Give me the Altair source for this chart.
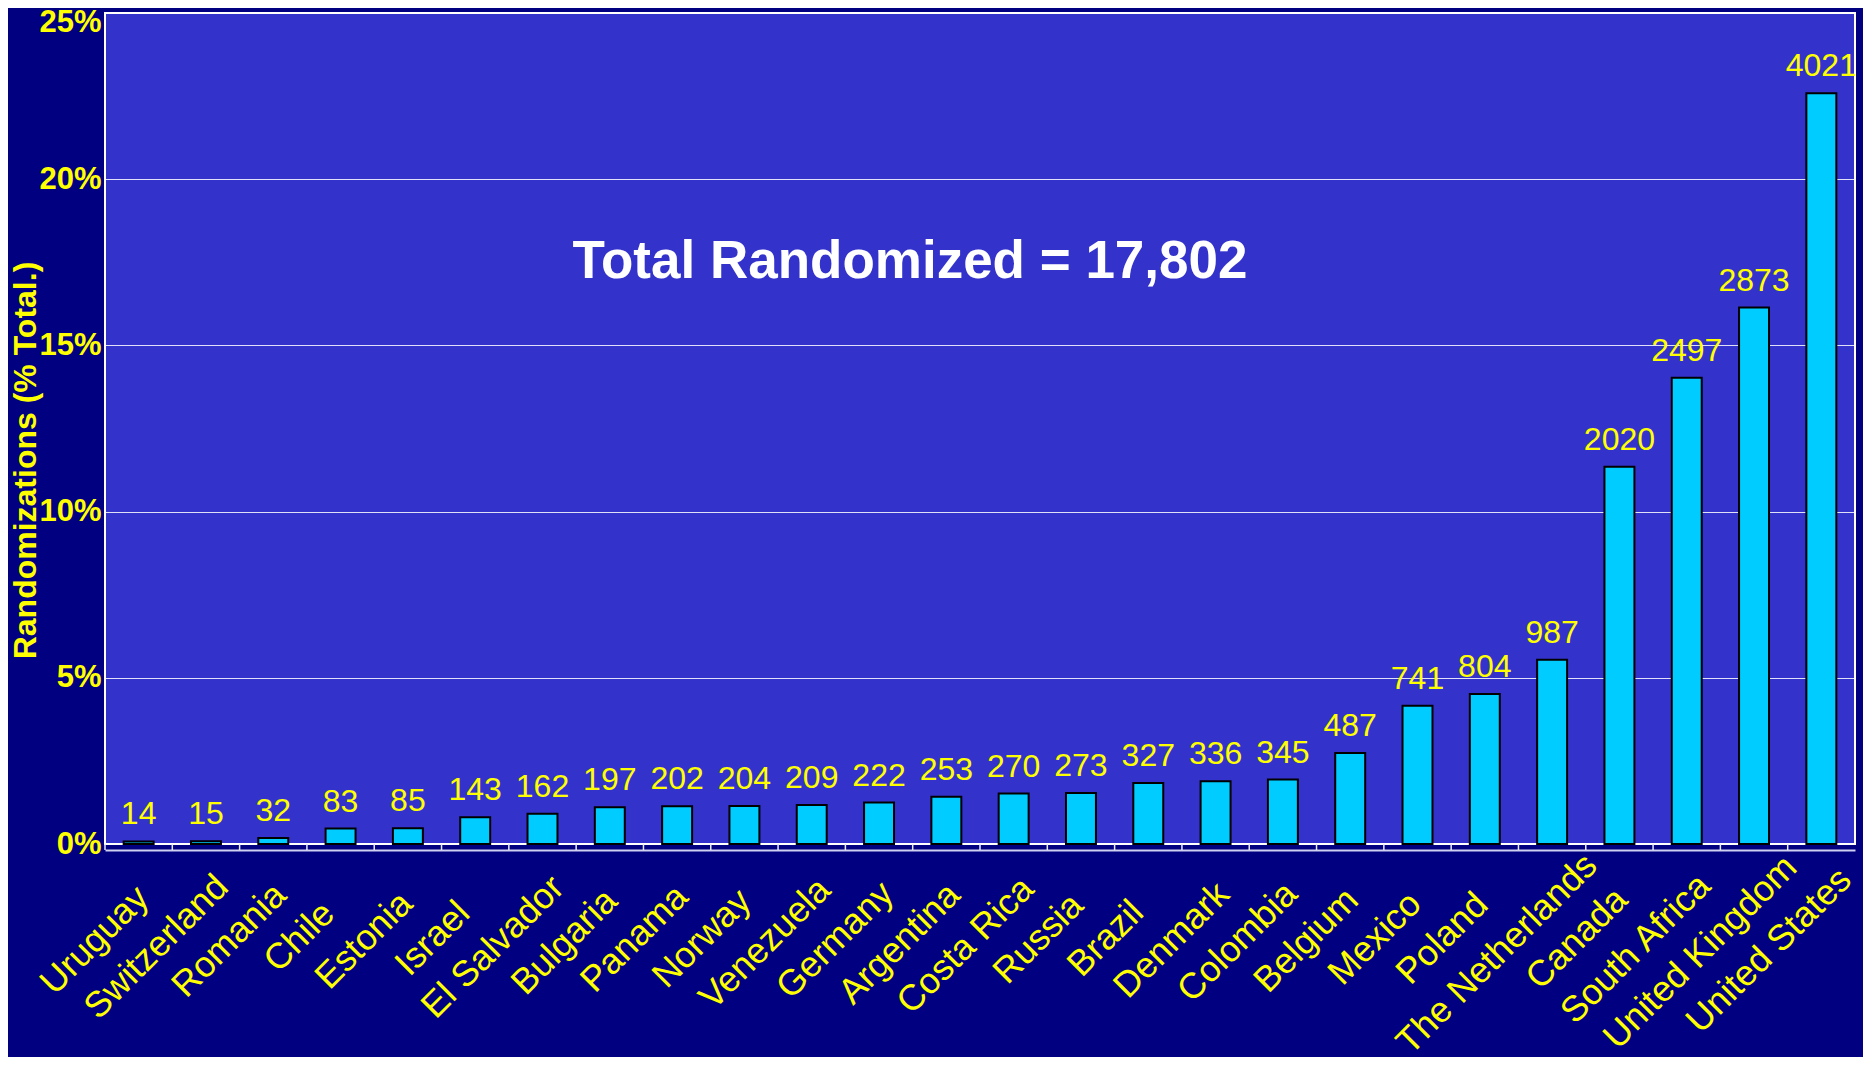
import altair as alt
import pandas as pd

countries = ["Uruguay", "Switzerland", "Romania", "Chile", "Estonia", "Israel",
             "El Salvador", "Bulgaria", "Panama", "Norway", "Venezuela", "Germany",
             "Argentina", "Costa Rica", "Russia", "Brazil", "Denmark", "Colombia",
             "Belgium", "Mexico", "Poland", "The Netherlands", "Canada",
             "South Africa", "United Kingdom", "United States"]
counts = [14, 15, 32, 83, 85, 143, 162, 197, 202, 204, 209, 222, 253, 270, 273,
          327, 336, 345, 487, 741, 804, 987, 2020, 2497, 2873, 4021]
total = 17802
y_ticks = [0, 5, 10, 15, 20, 25]
y_title = "Randomizations (% Total.)"
annotation = "Total Randomized = 17,802"

df = pd.DataFrame({"country": countries, "count": counts})

FONT = "Liberation Sans"
YELLOW = "#FFFF00"
W, H = 1750, 831

base = alt.Chart(df).transform_calculate(pct=f"datum.count / {total} * 100")

xenc = alt.X("country:N", sort=countries,
             scale=alt.Scale(paddingInner=0, paddingOuter=0),
             axis=alt.Axis(title=None, labelAngle=315, labelAlign="center",
                           labelBaseline="middle", labelFontSize=36,
                           labelFont=FONT, labelColor=YELLOW,
                           labelPadding={"expr": "78 + 1.7 * length(datum.label)"},
                           labelOffset={"expr": "-34 - 1.4 * length(datum.label)"},
                           labelLimit=600, ticks=False,
                           domainColor="#D0D0F0", domainWidth=2, offset=6,
                           labelOverlap=False))
yenc = alt.Y("pct:Q", scale=alt.Scale(domain=[0, 25], nice=False),
             axis=alt.Axis(values=y_ticks, labelExpr="datum.value + '%'",
                           labelFontSize=31, labelFontWeight="bold",
                           labelFont=FONT, labelColor=YELLOW, labelPadding=4,
                           labelOffset={"condition": {"test": "datum.value == 25", "value": 9}, "value": 0},
                           ticks=False, domain=False, grid=True,
                           gridColor="#FFFFFF", gridWidth=1, gridOpacity=0.85,
                           title=y_title, titleFontSize=32, titleFont=FONT,
                           titleFontWeight="bold", titleColor=YELLOW,
                           titleAngle=270, titleX=-70, titleY=447,
                           titleBaseline="alphabetic", titleAlign="center"))

bars = base.mark_bar(fill="#00CCFF", stroke="#000000", strokeWidth=2,
                     width=alt.RelativeBandSize(0.445)).encode(x=xenc, y=yenc)

labels = base.mark_text(color=YELLOW, fontSize=32, font=FONT,
                        baseline="alphabetic", dy=-17).encode(
    x=alt.X("country:N", sort=countries), y="pct:Q", text="count:Q")

ticks = alt.Chart(df).mark_rule(color="#E8E8FF", strokeWidth=1.5).encode(
    x=alt.X("country:N", sort=countries, bandPosition=0),
    y=alt.value(H), y2=alt.value(H + 6))

note = alt.Chart(pd.DataFrame({"t": [annotation]})).mark_text(
    color="#FFFFFF", fontSize=53, fontWeight="bold", font=FONT,
    baseline="alphabetic", align="center").encode(
    text="t:N", x=alt.value(805), y=alt.value(265))

chart = alt.layer(bars, labels, ticks, note).properties(
    width=W, height=H,
    background="#000080",
    padding={"left": 97, "top": 5, "right": 8, "bottom": 213},
    autosize=alt.AutoSizeParams(type="none"),
).configure_view(fill="#3333CC", stroke="#FFFFFF", strokeWidth=2)

chart.save("out.html", embed_options={"renderer": "svg", "actions": False})
